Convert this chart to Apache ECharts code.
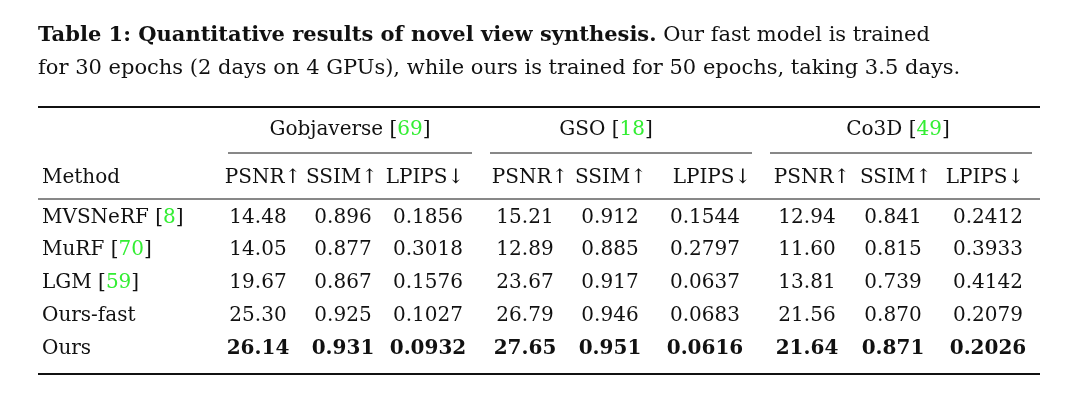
<!DOCTYPE html>
<html><head><meta charset="utf-8">
<script src="https://cdn.jsdelivr.net/npm/echarts@6/dist/echarts.min.js"></script>
<style>html,body{margin:0;background:#fff}#c{width:1080px;height:400px}</style>
</head><body><div id="c"></div>
<script>
const methods = ["MVSNeRF", "MuRF", "LGM", "Ours-fast", "Ours"];
const methodRefs = ["8", "70", "59", "", ""];
const groups = ["Gobjaverse", "GSO", "Co3D"];
const groupRefs = ["69", "18", "49"];
const metrics = ["PSNR↑", "SSIM↑", "LPIPS↓", "PSNR↑", "SSIM↑", "LPIPS↓", "PSNR↑", "SSIM↑", "LPIPS↓"];
const values = [
  ["14.48","0.896","0.1856","15.21","0.912","0.1544","12.94","0.841","0.2412"],
  ["14.05","0.877","0.3018","12.89","0.885","0.2797","11.60","0.815","0.3933"],
  ["19.67","0.867","0.1576","23.67","0.917","0.0637","13.81","0.739","0.4142"],
  ["25.30","0.925","0.1027","26.79","0.946","0.0683","21.56","0.870","0.2079"],
  ["26.14","0.931","0.0932","27.65","0.951","0.0616","21.64","0.871","0.2026"]
];
// layout
const colX = [258, 343, 428, 525, 610, 705, 807, 893, 988];
const hdrX = [263, 342, 425, 530, 611, 712, 812, 896, 985];
const rowY = [218, 250, 283, 316, 349];
const groupX = [350, 606, 898];
const FONT = '"DejaVu Serif", serif';
const FS = 20;

const cells = [];
values.forEach((r, i) => r.forEach((v, j) => cells.push([colX[j], rowY[i], v, i === methods.length - 1 ? 1 : 0])));
methods.forEach((m, i) => cells.push([42, rowY[i], m, 0, methodRefs[i], 'left']));
metrics.forEach((m, j) => cells.push([hdrX[j], 178, m, 0]));
cells.push([42, 178, "Method", 0, "", 'left']);
groups.forEach((g, k) => cells.push([groupX[k], 130, g, 0, groupRefs[k]]));

const rules = [[38, 1040, 107, 2], [38, 1040, 199, 1], [38, 1040, 374, 2],
  [228, 472, 153, 1], [490, 752, 153, 1], [770, 1032, 153, 1]];

const chart = echarts.init(document.getElementById('c'));
chart.setOption({
  animation: false,
  grid: {left: 0, right: 0, top: 0, bottom: 0},
  xAxis: {type: 'value', min: 0, max: 1080, show: false},
  yAxis: {type: 'value', min: 0, max: 400, inverse: true, show: false},
  graphic: [{
    type: 'text', left: 38, top: 19,
    style: {
      text: '{b|Table 1: Quantitative results of novel view synthesis.} Our fast model is trained\nfor 30 epochs (2 days on 4 GPUs), while ours is trained for 50 epochs, taking 3.5 days.',
      font: '21px ' + FONT, fill: '#111', lineHeight: 33,
      rich: {b: {fontWeight: 'bold', fontSize: 21, fontFamily: FONT}}
    }
  }],
  series: [{
    type: 'custom', data: rules,
    renderItem: (p, api) => {
      const a = api.coord([api.value(0), api.value(2)]);
      const b = api.coord([api.value(1), api.value(2)]);
      return {type: 'line', shape: {x1: a[0], y1: a[1], x2: b[0], y2: b[1]}, style: {stroke: '#111', lineWidth: api.value(3)}};
    }
  }, {
    type: 'custom', data: cells,
    renderItem: (p, api) => {
      const d = cells[p.dataIndex];
      const c = api.coord([d[0], d[1]]);
      const txt = d[4] ? d[2] + ' [{g|' + d[4] + '}]' : d[2];
      return {type: 'text', x: c[0], y: c[1], style: {
        text: txt, font: (d[3] ? 'bold ' : '') + FS + 'px ' + FONT, fill: '#111',
        align: d[5] || 'center', verticalAlign: 'middle',
        rich: {g: {fill: '#33ee33', fontSize: FS, fontFamily: FONT}}
      }};
    }
  }]
});
</script></body></html>
